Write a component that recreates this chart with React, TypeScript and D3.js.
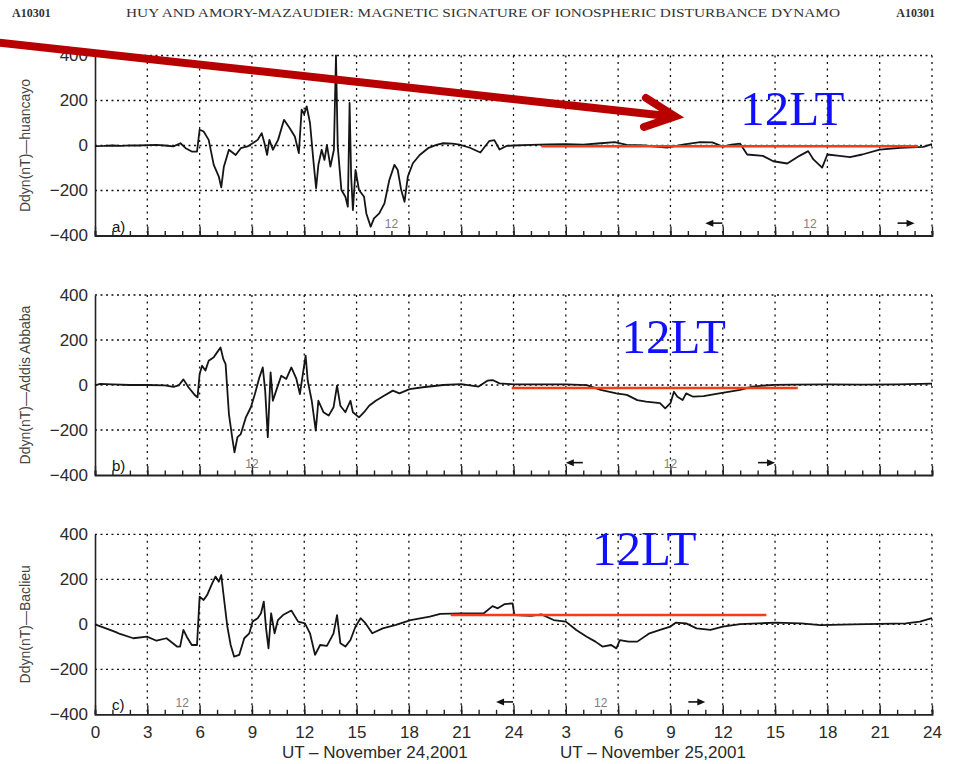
import { useEffect, useRef } from 'react';
import * as d3 from 'd3';

type Pt = [number, number];

// Ddyn (nT) vs UT hours (0-48, Nov 24-25 2001)
const huancayo: Pt[] = [
  [0, -3], [0.5, -2], [1, 0], [1.5, -2], [2, 1], [2.5, 0], [3, 2], [3.5, 3], [4, 0], [4.5, -4],
  [4.9, 10], [5.2, -12], [5.55, -27], [5.85, -27], [6.0, 70], [6.23, 62], [6.52, 25], [6.81, -86],
  [7.1, -138], [7.24, -186], [7.39, -94], [7.68, -19], [8.07, -42], [8.36, -12], [8.75, -4],
  [9.04, 10], [9.33, 25], [9.56, 55], [9.72, 10], [9.87, -42], [10.0, 25], [10.2, -19], [10.5, 25],
  [10.84, 114], [11.17, 77], [11.46, 40], [11.69, -34], [11.85, 159], [12.0, 140], [12.14, 174],
  [12.33, 100], [12.52, -64], [12.68, -190], [12.81, -86], [13.0, -19], [13.16, -64], [13.3, 3],
  [13.5, -94], [13.7, -19], [13.82, 400], [13.92, -4], [14.13, -198], [14.36, -228], [14.5, -272],
  [14.6, 189], [14.69, -138], [14.79, -287], [14.94, -109], [15.14, -198], [15.43, -228],
  [15.56, -302], [15.81, -361], [16.0, -324], [16.3, -302], [16.6, -257], [16.88, -153],
  [17.17, -86], [17.36, -109], [17.56, -198], [17.75, -250], [17.94, -138], [18.23, -79],
  [18.62, -42], [19.1, -12], [19.58, 3], [19.97, 10], [20.5, 8], [20.9, 4], [21.5, -10], [22.1, -31],
  [22.6, 19], [22.9, 24], [23.2, -18], [23.6, -2], [24, 0], [25, 3], [26, 5], [27, 6], [28, 4],
  [29, 10], [29.8, 15], [30.5, 3], [31.5, 0], [32.8, -9], [33.8, 5], [34.7, 15], [35.4, 14],
  [36, -5], [36.5, 4], [37, 8], [37.4, -40], [38.3, -46], [38.9, -70], [39.7, -80], [40.4, -46],
  [40.9, -25], [41.2, -62], [41.7, -98], [42.0, -40], [42.7, -46], [43.3, -52], [44.0, -40],
  [45, -18], [46.2, -10], [47.5, -6], [48, 6],
];

const addisAbaba: Pt[] = [
  [0, -2], [0.3, 5], [1, 3], [2, 0], [3, 0], [4, -2], [4.5, -8], [4.8, -2], [5.07, 25], [5.36, -10],
  [5.75, -47], [5.88, -55], [6.0, 49], [6.14, 86], [6.33, 64], [6.52, 108], [6.81, 123], [7.0, 145],
  [7.2, 167], [7.36, 115], [7.49, 93], [7.68, -129], [7.88, -240], [8.0, -299], [8.17, -232],
  [8.36, -218], [8.65, -144], [8.94, -99], [9.17, -40], [9.43, 34], [9.62, 78], [9.76, -25],
  [9.91, -232], [10.07, 56], [10.2, -70], [10.39, -25], [10.68, 41], [10.97, 27], [11.26, 78],
  [11.55, 27], [11.75, -40], [11.95, 64], [12.08, 130], [12.2, 19], [12.43, -70], [12.66, -203],
  [12.81, -70], [13.1, -121], [13.4, -136], [13.68, -99], [13.88, -3], [14.07, -92], [14.36, -121],
  [14.65, -70], [14.79, -121], [15.14, -144], [15.43, -121], [15.72, -92], [16.1, -70], [16.6, -47],
  [17.08, -25], [17.46, -37], [18.04, -18], [18.8, -10], [19.97, 0], [21, 4], [22, -7], [22.5, 19],
  [22.8, 22], [23.2, 7], [24, 3], [25.3, 3], [27, 3], [28.2, -1], [29, -22], [29.9, -37], [30.5, -44],
  [31.1, -67], [31.6, -74], [32.4, -81], [32.7, -104], [33, -81], [33.2, -30], [33.4, -52],
  [33.7, -67], [33.9, -37], [34.3, -52], [34.9, -49], [35.8, -37], [37, -22], [37.7, -7], [38.9, 1],
  [40, 2], [42, 3], [44, 2], [46, 3], [48, 6],
];

const bacLieu: Pt[] = [
  [0, 0], [0.86, -25], [1.2, -35], [1.43, -43], [2.2, -62], [2.98, -55], [3.53, -73], [4.1, -62],
  [4.7, -99], [4.88, -99], [5.07, -25], [5.26, -55], [5.55, -92], [5.85, -92], [6.0, 123],
  [6.23, 108], [6.43, 130], [6.72, 182], [6.91, 212], [7.1, 189], [7.24, 219], [7.36, 138],
  [7.59, -10], [7.78, -92], [7.98, -144], [8.27, -136], [8.56, -62], [8.85, -40], [9.04, 12],
  [9.33, 27], [9.52, 49], [9.68, 101], [9.81, -18], [9.95, -107], [10.1, 49], [10.3, -40],
  [10.49, 19], [10.78, 41], [11.26, 61], [11.65, 12], [12.04, 4], [12.33, -40], [12.62, -136],
  [12.91, -92], [13.3, -96], [13.68, -40], [13.88, 41], [14.07, -84], [14.36, -99], [14.65, -70],
  [14.94, -10], [15.23, 27], [15.52, 4], [15.9, -40], [16.5, -18], [17.26, -3], [18.1, 19],
  [19.2, 34], [19.8, 46], [21, 49], [22.3, 49], [22.8, 81], [23.1, 71], [23.5, 90], [23.95, 93],
  [24.05, 41], [25, 37], [25.6, 44], [26.3, 19], [27, 12], [27.6, -25], [28.2, -55], [28.7, -77],
  [29.1, -99], [29.6, -92], [29.9, -107], [30.1, -70], [30.6, -77], [31.1, -77], [31.8, -40],
  [32.4, -25], [33, -10], [33.3, 7], [33.9, 4], [34.5, -18], [35.3, -25], [36, -10], [37, 1],
  [39, 7], [40.5, 4], [41.6, -4], [43.5, 0], [46.5, 4], [47.3, 12], [48, 27],
];

const stationLabels = ['Ddyn(nT)—huancayo', 'Ddyn(nT)—Addis Abbaba', 'Ddyn(nT)—Baclieu'];
const panelLetters = ['a)', 'b)', 'c)'];
const noonDay1 = [17, 9, 5];
const noonDay2 = [41, 33, 29];
const arrowSpans: Pt[] = [[35, 47], [27, 39], [23, 35]];
// [start hour, end hour, level nT]
const refLines: [number, number, number][] = [[25.6, 47.2, -3], [23.9, 40.3, -13], [20.4, 38.5, 41]];
const ltAnchors: Pt[] = [[37.0, 89], [30.2, 142], [28.5, 264]];
const xTickHours = [0, 3, 6, 9, 12, 15, 18, 21, 24, 27, 30, 33, 36, 39, 42, 45, 48];
const xTickLabels = ['0', '3', '6', '9', '12', '15', '18', '21', '24', '3', '6', '9', '12', '15', '18', '21', '24'];
const yTicks = [-400, -200, 0, 200, 400];
const dayTitles = ['UT – November 24,2001', 'UT – November 25,2001'];
const dayTitleHours = [16.05, 32];

const W = 961;
const H = 764;
const SANS = '"Liberation Sans", Arial, Helvetica, sans-serif';
const SERIF = '"Liberation Serif", "Times New Roman", serif';

export default function App() {
  const svgRef = useRef<SVGSVGElement>(null);

  useEffect(() => {
    if (!svgRef.current) return;
    const svg = d3.select(svgRef.current);
    svg.selectAll('*').remove();

    const x = d3.scaleLinear().domain([0, 48]).range([95, 932]);
    const panelTops = [55.5, 295, 534.3];
    const panelH = 180;
    const series = [huancayo, addisAbaba, bacLieu];

    // header
    svg.append('text').attr('x', 12).attr('y', 17).attr('font-family', SERIF)
      .attr('font-size', 12).attr('font-weight', 'bold').attr('fill', '#333').text('A10301');
    svg.append('text').attr('x', 126).attr('y', 17).attr('font-family', SERIF)
      .attr('font-size', 12).attr('fill', '#333')
      .attr('textLength', 714).attr('lengthAdjust', 'spacingAndGlyphs')
      .text('HUY AND AMORY-MAZAUDIER: MAGNETIC SIGNATURE OF IONOSPHERIC DISTURBANCE DYNAMO');
    svg.append('text').attr('x', 935).attr('y', 17).attr('text-anchor', 'end').attr('font-family', SERIF)
      .attr('font-size', 12).attr('font-weight', 'bold').attr('fill', '#333').text('A10301');

    series.forEach((data, i) => {
      const top = panelTops[i];
      const bottom = top + panelH;
      const y = d3.scaleLinear().domain([-400, 400]).range([bottom, top]);
      const g = svg.append('g');

      // dotted grid
      g.selectAll('line.hgrid')
        .data([-200, 0, 200, 400])
        .join('line')
        .attr('x1', x(0)).attr('x2', x(48))
        .attr('y1', (d) => y(d)).attr('y2', (d) => y(d))
        .attr('stroke', '#111').attr('stroke-width', 1.3).attr('stroke-dasharray', '2,3.5');
      g.selectAll('line.vgrid')
        .data(xTickHours.filter((h) => h > 0))
        .join('line')
        .attr('x1', (d) => x(d)).attr('x2', (d) => x(d))
        .attr('y1', top).attr('y2', bottom)
        .attr('stroke', '#111').attr('stroke-width', 1.3).attr('stroke-dasharray', '2,4.5');

      // left axis
      const ya = g.append('g')
        .attr('transform', `translate(${x(0)},0)`)
        .call(d3.axisLeft(y).tickValues(yTicks).tickSize(0).tickPadding(7));
      ya.attr('font-family', SANS).attr('font-size', 17);
      ya.select('.domain').attr('stroke', '#222').attr('stroke-width', 1.6);
      ya.selectAll('text').attr('fill', '#2a2a2a');

      // bottom axis: minor + major inward ticks
      const minor = g.append('g')
        .attr('transform', `translate(0,${bottom})`)
        .call(d3.axisBottom(x).tickValues(d3.range(0, 49, 1)).tickSize(-4.5).tickFormat(() => ''));
      minor.selectAll('line').attr('stroke', '#222').attr('stroke-width', 1.4);
      minor.select('.domain').attr('stroke', '#222').attr('stroke-width', 1.8);

      const major = g.append('g')
        .attr('transform', `translate(0,${bottom})`)
        .call(
          d3.axisBottom(x)
            .tickValues(xTickHours)
            .tickSize(-9)
            .tickPadding(12)
            .tickFormat((_d, k) => (i === 2 ? xTickLabels[k] : ''))
        );
      major.attr('font-family', SANS).attr('font-size', 17);
      major.select('.domain').remove();
      major.selectAll('line').attr('stroke', '#222').attr('stroke-width', 1.4);
      major.selectAll('text').attr('fill', '#2a2a2a');

      // y title
      g.append('text')
        .attr('transform', `translate(30,${top + panelH / 2}) rotate(-90)`)
        .attr('text-anchor', 'middle')
        .attr('font-family', SANS)
        .attr('font-size', 14)
        .attr('fill', '#444')
        .text(stationLabels[i]);

      // panel letter
      g.append('text').attr('x', 112).attr('y', bottom - 4)
        .attr('font-family', SANS).attr('font-size', 15).attr('fill', '#111')
        .text(panelLetters[i]);

      // local noon markers
      const yMark = y(-345);
      [noonDay1[i], noonDay2[i]].forEach((h) => {
        g.append('text').attr('x', x(h)).attr('y', yMark + 5)
          .attr('text-anchor', 'middle').attr('font-family', SANS).attr('font-size', 12)
          .attr('fill', '#808080').text('12');
      });
      const [s, e] = arrowSpans[i];
      const xs = x(s);
      const xe = x(e);
      g.append('path')
        .attr('d', `M${xs},${yMark} L${xs + 8},${yMark - 3.5} L${xs + 8},${yMark + 3.5} Z`)
        .attr('fill', '#111');
      g.append('line').attr('x1', xs + 7).attr('x2', xs + 17).attr('y1', yMark).attr('y2', yMark)
        .attr('stroke', '#111').attr('stroke-width', 1.6);
      g.append('path')
        .attr('d', `M${xe},${yMark} L${xe - 8},${yMark - 3.5} L${xe - 8},${yMark + 3.5} Z`)
        .attr('fill', '#111');
      g.append('line').attr('x1', xe - 7).attr('x2', xe - 17).attr('y1', yMark).attr('y2', yMark)
        .attr('stroke', '#111').attr('stroke-width', 1.6);

      // series
      const line = d3.line<Pt>().x((d) => x(d[0])).y((d) => y(d[1]));
      g.append('path')
        .datum(data)
        .attr('d', line)
        .attr('fill', 'none')
        .attr('stroke', '#151515')
        .attr('stroke-width', 1.8)
        .attr('stroke-linejoin', 'round');

      // red reference line
      const [r0, r1, lv] = refLines[i];
      g.append('line')
        .attr('x1', x(r0)).attr('x2', x(r1))
        .attr('y1', y(lv)).attr('y2', y(lv))
        .attr('stroke', '#f53c14').attr('stroke-width', 2.5);

      // 12LT annotation
      g.append('text')
        .attr('x', x(ltAnchors[i][0]))
        .attr('y', y(ltAnchors[i][1]))
        .attr('font-family', SERIF)
        .attr('font-size', 49)
        .attr('fill', '#1010ff')
        .text('12LT');

      if (i === 2) {
        dayTitles.forEach((t, k) => {
          g.append('text')
            .attr('x', x(dayTitleHours[k]))
            .attr('y', 758)
            .attr('text-anchor', 'middle')
            .attr('font-family', SANS)
            .attr('font-size', 17)
            .attr('fill', '#2a2a2a')
            .text(t);
        });
      }
    });

    // big red pointer arrow
    const arrow = svg.append('g')
      .attr('stroke', '#b80000')
      .attr('stroke-width', 8)
      .attr('stroke-linecap', 'round')
      .attr('fill', 'none');
    arrow.append('line').attr('x1', -10).attr('y1', 41.6).attr('x2', 672).attr('y2', 116.5);
    arrow.append('path').attr('d', 'M646,98 L675,116.5 L644,127');
  }, []);

  return (
    <svg
      ref={svgRef}
      width={W}
      height={H}
      style={{ position: 'absolute', left: 0, top: 0, background: '#fff' }}
    />
  );
}
